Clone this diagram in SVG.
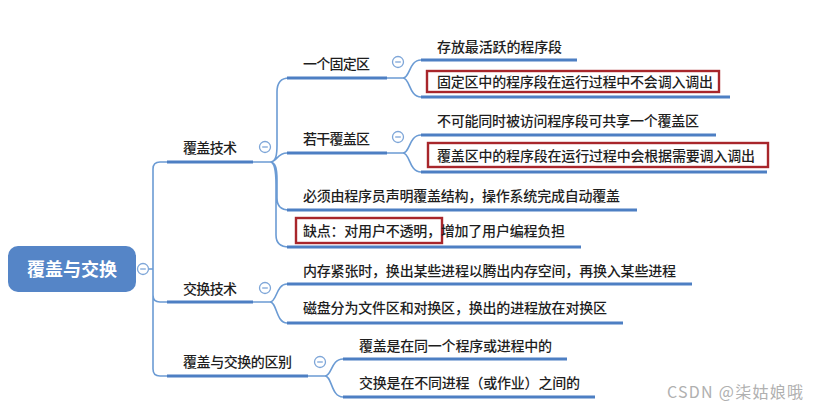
<svg xmlns="http://www.w3.org/2000/svg" width="818" height="411" viewBox="0 0 818 411">
<style>
.t{font-family:"Noto Sans CJK SC","Noto Sans",sans-serif;font-size:14px;font-weight:500;fill:#1e1e1e}
.u{stroke:#4d7fc3;stroke-width:3.2;stroke-linecap:butt;fill:none}
.c{stroke:#6b9bd4;stroke-width:1.6;fill:none}
.r{fill:none;stroke:#a8262b;stroke-width:2.4}
</style>
<defs>
<g id="col"><circle r="5.5" fill="#fff" stroke="#7ea6d8" stroke-width="1.3"/><line x1="-2.8" y1="0" x2="2.8" y2="0" stroke="#7ea6d8" stroke-width="1.3"/></g>
</defs>
<rect width="818" height="411" fill="#fff"/>
<g id="connectors">
<path class="c" d="M148,269 H153 M167,162 H160 Q153,162 153,169 V369 Q153,376 160,376 H167 M153,295 Q153,302 160,302 H167"/>
<path class="c" d="M253,162 H270 M270,162 C276,162 277,155 277,145 V92 Q277,78 289,78 M270,162 C277,162 277,153 287,153 M270,162 C276,162 277,170 277,180 V198 Q277,210 289,210 M270,162 C275,162 276,172 276,185 V235 Q276,247 289,247"/>
<path class="c" d="M387,78 H403 M403,78 C410,78 409,60 421,60 M403,78 C410,78 409,97 421,97"/>
<path class="c" d="M387,153 H403 M403,153 C410,153 409,135 421,135 M403,153 C410,153 409,172 421,172"/>
<path class="c" d="M253,302 H270 M270,302 C277,302 276,284 287,284 M270,302 C277,302 276,323 287,323"/>
<path class="c" d="M308,376 H325 M325,376 C332,376 331,359 343,359 M325,376 C332,376 331,397 343,397"/>
</g>
<g id="root">
<rect x="8" y="246" width="128" height="46" rx="10" fill="#5585c7"/>
<text x="72" y="275.5" text-anchor="middle" font-family="Noto Sans CJK SC,sans-serif" font-size="18" font-weight="bold" fill="#fff">覆盖与交换</text>
<use href="#col" x="143" y="269"/>
</g>
<g id="n-fugai">
<line class="u" x1="167" y1="162" x2="253" y2="162"/>
<text class="t" x="183" y="153" textLength="54">覆盖技术</text>
<use href="#col" x="265" y="147"/>
</g>
<g id="n-jiaohuan">
<line class="u" x1="167" y1="302" x2="253" y2="302"/>
<text class="t" x="183" y="294" textLength="54">交换技术</text>
<use href="#col" x="265" y="288"/>
</g>
<g id="n-qubie">
<line class="u" x1="167" y1="376" x2="308" y2="376"/>
<text class="t" x="183" y="367" textLength="109">覆盖与交换的区别</text>
<use href="#col" x="320" y="362"/>
</g>
<g id="n-guding">
<line class="u" x1="287" y1="78" x2="387" y2="78"/>
<text class="t" x="303" y="69" textLength="67">一个固定区</text>
<use href="#col" x="398" y="62"/>
</g>
<g id="n-ruogan">
<line class="u" x1="287" y1="153" x2="387" y2="153"/>
<text class="t" x="303" y="144" textLength="67">若干覆盖区</text>
<use href="#col" x="398" y="137"/>
</g>
<g id="n-bixu">
<line class="u" x1="287" y1="210" x2="637" y2="210"/>
<text class="t" x="303" y="201" textLength="317">必须由程序员声明覆盖结构，操作系统完成自动覆盖</text>
</g>
<g id="n-quedian">
<line class="u" x1="287" y1="247" x2="581" y2="247"/>
<rect class="r" x="296" y="218" width="146" height="25"/>
<text class="t" x="303" y="236" textLength="262">缺点：对用户不透明，增加了用户编程负担</text>
</g>
<g id="n-neicun">
<line class="u" x1="287" y1="284" x2="692" y2="284"/>
<text class="t" x="303" y="276" textLength="373">内存紧张时，换出某些进程以腾出内存空间，再换入某些进程</text>
</g>
<g id="n-cipan">
<line class="u" x1="287" y1="323" x2="623" y2="323"/>
<text class="t" x="303" y="313" textLength="304">磁盘分为文件区和对换区，换出的进程放在对换区</text>
</g>
<g id="n-cunfang">
<line class="u" x1="421" y1="60" x2="577" y2="60"/>
<text class="t" x="437" y="52" textLength="125">存放最活跃的程序段</text>
</g>
<g id="n-gudingzhong">
<line class="u" x1="421" y1="97" x2="730" y2="97"/>
<rect class="r" x="427" y="71" width="292" height="21"/>
<text class="t" x="437" y="87" textLength="276">固定区中的程序段在运行过程中不会调入调出</text>
</g>
<g id="n-bukeneng">
<line class="u" x1="421" y1="135" x2="716" y2="135"/>
<text class="t" x="437" y="126" textLength="262">不可能同时被访问程序段可共享一个覆盖区</text>
</g>
<g id="n-fugaiqu">
<line class="u" x1="421" y1="172" x2="767" y2="172"/>
<rect class="r" x="428" y="143" width="340" height="24"/>
<text class="t" x="437" y="161" textLength="318">覆盖区中的程序段在运行过程中会根据需要调入调出</text>
</g>
<g id="n-fugaishi">
<line class="u" x1="343" y1="359" x2="567" y2="359"/>
<text class="t" x="359" y="351" textLength="193">覆盖是在同一个程序或进程中的</text>
</g>
<g id="n-jiaohuanshi">
<line class="u" x1="343" y1="397" x2="595" y2="397"/>
<text class="t" x="359" y="388" textLength="221">交换是在不同进程（或作业）之间的</text>
</g>
<text x="667" y="398" font-family="Noto Sans CJK SC,sans-serif" font-size="16" fill="#b0b0b0" textLength="136">CSDN @柒姑娘哦</text>
</svg>
